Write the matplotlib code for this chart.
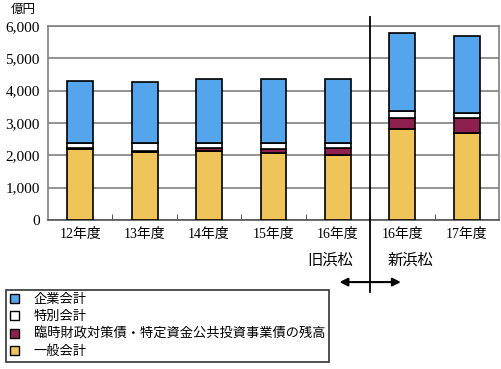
import numpy as np
import matplotlib.pyplot as plt
from matplotlib.patches import Patch

plt.rcParams['font.family'] = ['Liberation Serif', 'Noto Sans CJK JP']

years = ["12年度", "13年度", "14年度", "15年度", "16年度", "16年度", "17年度"]
general = [2200, 2100, 2140, 2060, 2000, 2810, 2680]       # 一般会計
temp_bond = [30, 40, 80, 140, 220, 360, 460]               # 臨時財政対策債・特定資金公共投資事業債の残高
special = [150, 230, 160, 170, 150, 200, 160]              # 特別会計
enterprise = [1920, 1900, 1980, 1990, 1990, 2410, 2400]    # 企業会計
yticks = [0, 1000, 2000, 3000, 4000, 5000, 6000]

c_gen = "#EFC55A"
c_tmp = "#8E2050"
c_spe = "#FFFFFF"
c_ent = "#55A5EC"

fig = plt.figure(figsize=(5.02, 3.69), dpi=100)
ax = fig.add_axes([48/502, 1-220/369, 451/502, 194/369])

x = np.arange(len(years))
w = 0.4
kw = dict(width=w, edgecolor="black", linewidth=1.2, zorder=3)
b1 = np.array(general)
b2 = b1 + np.array(temp_bond)
b3 = b2 + np.array(special)
ax.bar(x, general, color=c_gen, **kw)
ax.bar(x, temp_bond, bottom=b1, color=c_tmp, **kw)
ax.bar(x, special, bottom=b2, color=c_spe, **kw)
ax.bar(x, enterprise, bottom=b3, color=c_ent, **kw)

ax.set_xlim(-0.5, len(years) - 0.5)
ax.set_ylim(0, 6000)
ax.set_yticks(yticks)
ax.set_yticklabels([f"{v:,}" for v in yticks], fontsize=11)
ax.tick_params(axis="y", length=0, pad=6)
ax.set_xticks(x)
ax.set_xticklabels(years, fontsize=10)
ax.tick_params(axis="x", length=0, pad=6)
ax.set_xticks(x[:-1] + 0.5, minor=True)
ax.tick_params(axis="x", which="minor", direction="in", length=4, color="#333333")
ax.yaxis.grid(True, color="#808080", linewidth=1.2, zorder=0)
for s in ax.spines.values():
    s.set_color("#808080")
    s.set_linewidth(1.2)
ax.spines["bottom"].set_color("#555555")

# 旧浜松 / 新浜松 divider
tr = ax.get_xaxis_transform()
ax.plot([4.5, 4.5], [-0.371, 1.046], color="black", linewidth=1.3, transform=tr, clip_on=False, zorder=5)
ax.annotate("", xy=(3.98, -0.32), xytext=(5.02, -0.32), xycoords=tr, textcoords=tr,
            arrowprops=dict(arrowstyle="<|-|>", color="black", linewidth=1.5, mutation_scale=12))
ax.text(3.88, -0.211, "旧浜松", transform=tr, ha="center", va="center", fontsize=11)
ax.text(5.12, -0.211, "新浜松", transform=tr, ha="center", va="center", fontsize=11)

fig.text(11/502, 1-10/369, "億円", ha="left", va="center", fontsize=9)

handles = [Patch(facecolor=c, edgecolor="black", linewidth=1) for c in [c_ent, c_spe, c_tmp, c_gen]]
labels = ["企業会計", "特別会計", "臨時財政対策債・特定資金公共投資事業債の残高", "一般会計"]
leg = fig.legend(handles, labels, loc="upper left", bbox_to_anchor=(6/502, 1-290/369),
                 fontsize=9.5, frameon=True, fancybox=False, handlelength=0.7, handleheight=0.7,
                 handletextpad=1.1, labelspacing=0.35, borderpad=0.3, borderaxespad=0)
leg.get_frame().set_edgecolor("black")
leg.get_frame().set_linewidth(1.2)

fig.savefig("out.png", dpi=100)
